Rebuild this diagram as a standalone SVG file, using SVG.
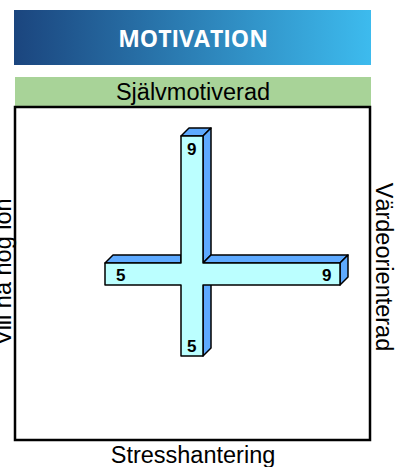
<svg xmlns="http://www.w3.org/2000/svg" width="396" height="467" viewBox="0 0 396 467">
<defs>
<linearGradient id="hg" x1="0" y1="0" x2="1" y2="0">
<stop offset="0" stop-color="#1b457e"/>
<stop offset="1" stop-color="#3dbbee"/>
</linearGradient>
</defs>
<style>
.lbl{font-family:"Liberation Sans",Arial,sans-serif;font-size:23.5px;fill:#000}
.num{font-family:"Liberation Sans",Arial,sans-serif;font-size:17px;font-weight:bold;fill:#000}
.front{fill:#bbffff;stroke:#000;stroke-width:1.5;stroke-linejoin:round}
.side{fill:#5eaaff;stroke:#000;stroke-width:1.5;stroke-linejoin:round}
</style>
<rect width="396" height="467" fill="#fff"/>
<g id="header">
<rect x="14" y="10" width="357" height="55" fill="url(#hg)"/>
<text x="193" y="47" text-anchor="middle" font-family="'Open Sans','Noto Sans',sans-serif" font-weight="bold" font-size="23" fill="#fff">MOTIVATION</text>
</g>
<g id="top-label">
<rect x="15" y="77" width="356" height="29" fill="#a8d398"/>
<text class="lbl" x="193" y="100" text-anchor="middle">Självmotiverad</text>
</g>
<g id="frame">
<rect x="15" y="107" width="355" height="333" fill="#fff" stroke="#000" stroke-width="2.5"/>
</g>
<g id="bottom-label"><text class="lbl" x="193" y="463" text-anchor="middle">Stresshantering</text></g>
<g id="left-label"><text class="lbl" transform="translate(10.5,272) rotate(-90)" text-anchor="middle">Vill ha hög lön</text></g>
<g id="right-label"><text class="lbl" transform="translate(375.5,267) rotate(90)" text-anchor="middle">Värdeorienterad</text></g>
<g id="cross">
<polygon class="side" points="181,136 189,128 211,128 203,136"/>
<polygon class="side" points="203,136 211,128 211,255 203,263"/>
<polygon class="side" points="105,263 113,255 181,255 181,263"/>
<polygon class="side" points="203,263 211,255 348,255 340,263"/>
<polygon class="side" points="340,263 348,255 348,277 340,285"/>
<polygon class="side" points="203,285 211,277 211,348 203,356"/>
<polygon class="front" points="181,136 203,136 203,263 340,263 340,285 203,285 203,356 181,356 181,285 105,285 105,263 181,263"/>
<text class="num" x="187" y="155">9</text>
<text class="num" x="116" y="281">5</text>
<text class="num" x="322" y="281">9</text>
<text class="num" x="187" y="352">5</text>
</g>
</svg>
